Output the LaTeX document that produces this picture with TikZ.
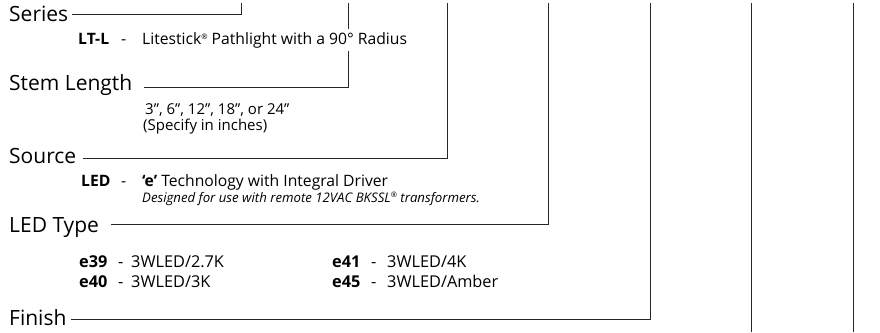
\documentclass[tikz,border=0pt]{standalone}
\usepackage{fontspec}
\setmainfont{Open Sans}
\newcommand\regmark{{\fontsize{7.5}{7.5}\selectfont\raisebox{4.2pt}{®}}}
\begin{document}
\begin{tikzpicture}[x=1pt,y=-1pt,
  lbl/.style={anchor=base west, inner sep=0pt, font=\fontsize{21}{23}\selectfont},
  sub/.style={anchor=base west, inner sep=0pt, font=\fontsize{15.7}{17}\selectfont},
  subb/.style={anchor=base west, inner sep=0pt, font=\fontsize{15.7}{17}\selectfont\bfseries},
  typ/.style={anchor=base west, inner sep=0pt, font=\fontsize{16.3}{18}\selectfont},
  typb/.style={anchor=base west, inner sep=0pt, font=\fontsize{16.3}{18}\selectfont\bfseries},
  opt/.style={anchor=base west, inner sep=0pt, font=\fontsize{15}{17}\selectfont},
  note/.style={anchor=base west, inner sep=0pt, font=\fontsize{13.2}{15}\selectfont\itshape},
  lead/.style={draw=black!85, line width=0.9pt}]
\useasboundingbox (0,0) rectangle (880,332);
\coordinate (t) at (0,3);
\coordinate (b) at (0,332);
% corners
\coordinate (k1) at (241,14);
\coordinate (k2) at (348,87);
\coordinate (k3) at (447,158);
\coordinate (k4) at (548,224);
\coordinate (k5) at (650,319);
\coordinate (v6) at (751,3);
\coordinate (v7) at (853,3);
% labels
\node[lbl] (series) at (9,21) {Series};
\node[lbl] (stem) at (9,90) {Stem Length};
\node[lbl] (source) at (9,163) {Source};
\node[lbl] (ledtype) at (9,232) {LED Type};
\node[lbl] (finish) at (9,325) {Finish};
% leaders
\draw[lead] ([xshift=4pt]series.east |- k1) -- (k1) -- (k1 |- t);
\draw[lead] ([xshift=12pt]stem.east |- k2) -- (k2) -- (k2 |- t);
\draw[lead] ([xshift=7pt]source.east |- k3) -- (k3) -- (k3 |- t);
\draw[lead] ([xshift=12pt]ledtype.east |- k4) -- (k4) -- (k4 |- t);
\draw[lead] ([xshift=4pt]finish.east |- k5) -- (k5) -- (k5 |- t);
\draw[lead] (v6) -- (v6 |- b);
\draw[lead] (v7) -- (v7 |- b);
% series options
\node[subb] (ltl) at (78,44) {LT-L};
\node[sub] (ltldash) at (121,44) {-};
\node[sub, fill=white, inner ysep=3pt] (ltltxt) at (142,44) {Litestick\regmark{} Pathlight with a 90° Radius};
% stem
\node[opt] (len1) at (145,114) {3”, 6”, 12”, 18”, or 24”};
\node[opt] (len2) at (143,130) {(Specify in inches)};
% source
\node[subb] (led) at (81,186) {LED};
\node[sub] (leddash) at (121,186) {-};
\node[sub] (ledtxt) at (142,186) {\textbf{‘e’} Technology with Integral Driver};
\node[note] (lednote) at (142,202) {Designed for use with remote 12VAC BKSSL\regmark{} transformers.};
% led types
\node[typb] (e39) at (79,267) {e39};
\node[typ] (e39d) at (118,267) {-};
\node[typ] (e39t) at (131,267) {3WLED/2.7K};
\node[typb] (e40) at (79,287) {e40};
\node[typ] (e40d) at (118,287) {-};
\node[typ] (e40t) at (131,287) {3WLED/3K};
\node[typb] (e41) at (332,267) {e41};
\node[typ] (e41d) at (371,267) {-};
\node[typ] (e41t) at (387,267) {3WLED/4K};
\node[typb] (e45) at (332,287) {e45};
\node[typ] (e45d) at (371,287) {-};
\node[typ] (e45t) at (387,287) {3WLED/Amber};
\end{tikzpicture}
\end{document}
